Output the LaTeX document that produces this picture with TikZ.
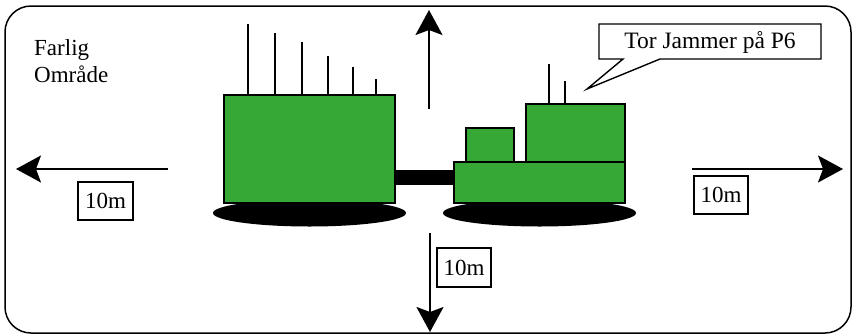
\documentclass[tikz,border=0pt]{standalone}
\usepackage{fontspec}
\setmainfont{Liberation Serif}
\usetikzlibrary{arrows.meta}
\definecolor{hullgreen}{RGB}{53,168,53}
\tikzset{
  hull/.style={draw=black, line width=1.5pt, fill=hullgreen},
  track/.style={fill=black},
  mast/.style={line width=1.9pt},
  dist/.style={line width=2pt, -{Stealth[length=25pt, width=27pt, inset=5pt]}},
  tag/.style={draw, line width=1.3pt, inner sep=3pt, font=\fontsize{23}{26}\selectfont},
  label/.style={font=\fontsize{23}{27}\selectfont, align=left, inner sep=0pt}
}
\begin{document}
\begin{tikzpicture}[x=1pt, y=-1pt]
  \useasboundingbox (0,0) rectangle (853,335);
  % area frame
  \draw[line width=1.5pt, rounded corners=26pt] (5,6) rectangle (851,333);
  \node[label, anchor=north west] (zone) at (34,39) {Farlig\\Område};

  % left unit: tracks, body, masts
  \fill[track] (309.5,213) ellipse [x radius=96.5, y radius=13.5];
  \node[hull, minimum width=171pt, minimum height=108pt, anchor=north west, inner sep=0pt] (body) at (223,94) {};
  \foreach \x/\t in {248/24, 275/33, 302/42, 328/56, 353/67, 376/79}
    \draw[mast] (\x,94) -- (\x,\t);

  % right unit: tracks, hull, cabins, masts
  \fill[track] (539.5,213) ellipse [x radius=96.5, y radius=13.5];
  \node[hull, minimum width=171pt, minimum height=41pt, anchor=north west, inner sep=0pt] (base) at (453,161) {};
  \node[hull, minimum width=48pt, minimum height=34pt, anchor=north west, inner sep=0pt] (cab) at (465,127) {};
  \node[hull, minimum width=99pt, minimum height=58pt, anchor=north west, inner sep=0pt] (jammer) at (525,103) {};
  \draw[mast] (549,103) -- (549,64);
  \draw[mast] (565,103) -- (565,81);

  % coupling bar
  \fill[black] (body.east |- 0,170) rectangle (base.west |- 0,185);

  % callout
  \draw[line width=1.4pt, fill=white] (599,24) -- (821,24) -- (821,59) -- (660,59)
    -- (587,89) -- (623,59) -- (599,59) -- cycle;
  \node[font=\fontsize{23.5}{26}\selectfont, inner sep=0pt] (call) at (710,42) {Tor Jammer på P6};

  % distance arrows
  \coordinate (upS) at (429,109);  \coordinate (upE) at (429,10);
  \coordinate (dnS) at (430,233);  \coordinate (dnE) at (430,332);
  \coordinate (lfS) at (168,169);  \coordinate (lfE) at (16,169);
  \coordinate (rtS) at (692,169);  \coordinate (rtE) at (843,169);
  \draw[dist] (upS) -- (upE);
  \draw[dist] (dnS) -- (dnE);
  \draw[dist] (lfS) -- (lfE);
  \draw[dist] (rtS) -- (rtE);

  \node[tag, minimum width=55pt, minimum height=38pt] (dl) at (105.5,201) {10m};
  \node[tag, minimum width=54pt, minimum height=39pt] (dd) at (464,267.5) {10m};
  \node[tag, minimum width=54pt, minimum height=38pt] (dr) at (721,195) {10m};
\end{tikzpicture}
\end{document}
